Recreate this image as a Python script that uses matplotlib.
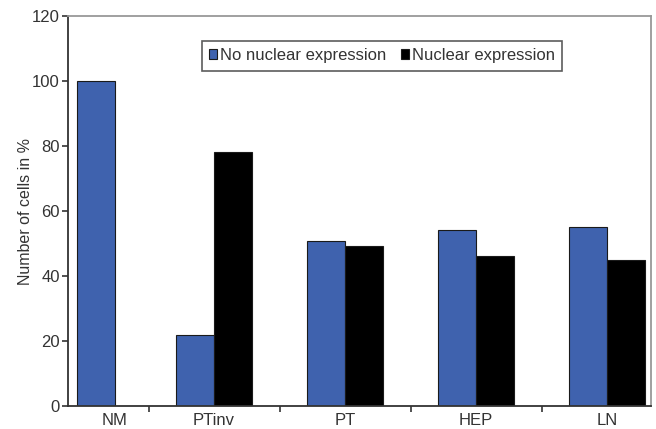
import matplotlib.pyplot as plt
import numpy as np
from matplotlib.patches import Patch

# Données (pourcentage de cellules)
categories = ['NM', 'PTinv', 'PT', 'HEP', 'LN']
no_nuclear = [100, 21.7, 50.8, 54.2, 55]
nuclear = [0, 78.3, 49.2, 46.2, 45]
y_ticks = [0, 20, 40, 60, 80, 100, 120]

blue = '#3F62AE'
txt = '#333333'
plt.rcParams['font.family'] = ['Liberation Sans', 'DejaVu Sans']

fig = plt.figure(figsize=(6.56, 4.29), dpi=100)
ax = fig.add_axes([0.1037, 0.0536, 0.8887, 0.9091])

# le groupe NM est décalé vers la droite dans l'original
x = np.arange(len(categories), dtype=float)
x[0] += 0.24
w = 0.29

ax.bar(x - w / 2, no_nuclear, w, color=blue, edgecolor='#1a1a1a', linewidth=0.8)
ax.bar(x + w / 2, nuclear, w, color='black', edgecolor='#1a1a1a', linewidth=0.8)

ax.set_xlim(-0.115, 4.335)
ax.set_ylim(0, 120)
ax.set_yticks(y_ticks)
ax.set_xticks(x)
ax.set_xticklabels(categories)
ax.set_xticks(np.arange(0.5, 4.5, 1), minor=True)
ax.tick_params(axis='x', which='major', length=0, pad=5, labelsize=12, colors=txt)
ax.tick_params(axis='x', which='minor', length=4, width=1.2, color='#333333')
ax.tick_params(axis='y', length=4, width=1.2, color='#333333', labelsize=12, labelcolor=txt, pad=2)
ax.set_ylabel('Number of cells in %', fontsize=11.5, color=txt, labelpad=-1)

for s in ['left', 'bottom']:
    ax.spines[s].set_color('#333333')
    ax.spines[s].set_linewidth(1.3)
for s in ['top', 'right']:
    ax.spines[s].set_color('#999999')
    ax.spines[s].set_linewidth(1.3)

handles = [Patch(facecolor=blue, edgecolor='#1a1a1a', linewidth=0.8),
           Patch(facecolor='black', edgecolor='#1a1a1a', linewidth=0.8)]
leg = ax.legend(handles, ['No nuclear expression', 'Nuclear expression'],
                ncol=2, loc='upper left', bbox_to_anchor=(0.229, 0.937),
                fontsize=12, frameon=True, fancybox=False, handlelength=0.5,
                handleheight=0.5, handletextpad=0.15, columnspacing=0.9,
                borderpad=0.45, borderaxespad=0)
leg.get_frame().set_edgecolor('#333333')
leg.get_frame().set_linewidth(1.2)
for t in leg.get_texts():
    t.set_color(txt)

fig.savefig('out.png', dpi=100)
